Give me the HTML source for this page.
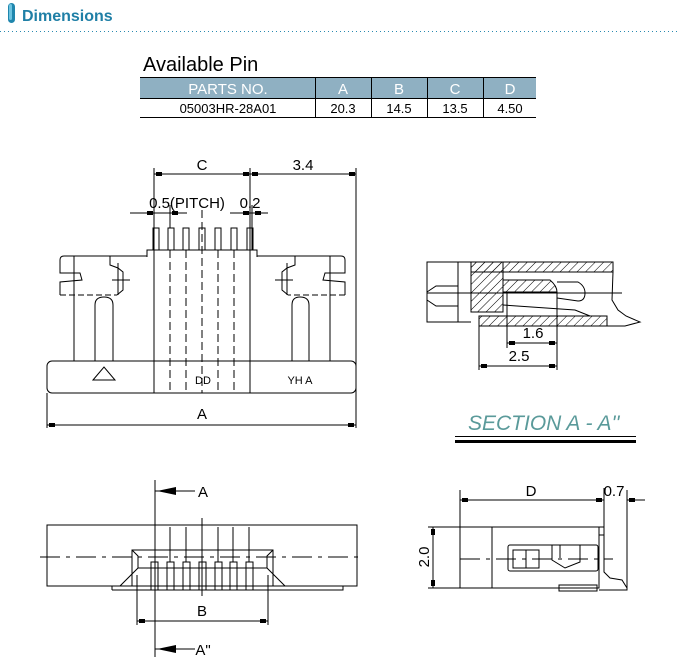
<!DOCTYPE html>
<html><head><meta charset="utf-8"><style>
html,body{margin:0;padding:0;background:#fff;}
svg{display:block;}
text{font-family:"Liberation Sans",sans-serif;}
</style></head><body>
<svg width="680" height="665" viewBox="0 0 680 665" xmlns="http://www.w3.org/2000/svg">
<defs>
<pattern id="h" width="6" height="6" patternUnits="userSpaceOnUse" patternTransform="rotate(45)">
<line x1="0" y1="0" x2="0" y2="6" stroke="#000" stroke-width="1"/>
</pattern>
</defs>
<rect x="8" y="3" width="7" height="20" rx="3.5" fill="#1f86ad"/>
<rect x="9" y="4" width="3" height="16" rx="1.5" fill="#6cc3e0"/>
<text x="22" y="21" font-size="16" font-weight="bold" fill="#1f7fa6">Dimensions</text>
<line x1="0" y1="31.5" x2="680" y2="31.5" stroke="#2a8ab0" stroke-width="1" stroke-dasharray="1,3"/>

<text x="143" y="71" font-size="20" fill="#000">Available Pin</text>
<rect x="140" y="78" width="396" height="20" fill="#8fb0c2"/>
<line x1="140" y1="77.5" x2="536" y2="77.5" stroke="#000"/>
<line x1="140" y1="98.5" x2="536" y2="98.5" stroke="#000"/>
<line x1="140" y1="117.5" x2="536" y2="117.5" stroke="#000"/>
<g stroke="#000"><line x1="315.5" y1="78" x2="315.5" y2="118"/><line x1="371.5" y1="78" x2="371.5" y2="118"/><line x1="427.5" y1="78" x2="427.5" y2="118"/><line x1="483.5" y1="78" x2="483.5" y2="118"/></g>
<g font-size="15" fill="#fff" text-anchor="middle"><text x="228" y="94">PARTS NO.</text><text x="343" y="94">A</text><text x="399" y="94">B</text><text x="455" y="94">C</text><text x="510" y="94">D</text></g>
<g font-size="13" fill="#000" text-anchor="middle"><text x="228" y="113">05003HR-28A01</text><text x="343" y="113">20.3</text><text x="399" y="113">14.5</text><text x="455" y="113">13.5</text><text x="510" y="113">4.50</text></g>

<g stroke="#000" stroke-width="1" fill="none">
<!-- top view -->
<line x1="154" y1="168" x2="154" y2="393"/><line x1="250" y1="168" x2="250" y2="393"/><line x1="356" y1="168" x2="356" y2="428"/>
<line x1="154" y1="174" x2="356" y2="174"/>
<line x1="47" y1="393" x2="47" y2="428"/>
<line x1="47" y1="425" x2="356" y2="425"/>
<line x1="130" y1="213" x2="187" y2="213"/><line x1="170" y1="205" x2="170" y2="228"/>
<line x1="230" y1="213" x2="268" y2="213"/><line x1="252" y1="205" x2="252" y2="250"/>
<path d="M147 257 L147 250 L257 250 L257 257"/>
<path d="M147 256 L64 256 Q60 256 60 260 L60 273 L80 273 L82 280 L60 282 L60 295"/>
<path d="M60 295 L117 295" stroke-dasharray="6,3"/>
<path d="M147 256 L110 256 L110 265 L118 268 L123 272 L123 290 L117 295"/>
<line x1="118" y1="263" x2="118" y2="295"/><line x1="112" y1="280" x2="130" y2="280"/>
<line x1="74" y1="256" x2="74" y2="361"/>
<path d="M95 361 L95 305 Q95 297 104 297 Q113 297 113 305 L113 361"/>
<path d="M257 256 L341 256 Q345 256 345 260 L345 273 L325 273 L323 280 L345 282 L345 295"/>
<path d="M345 295 L288 295" stroke-dasharray="6,3"/>
<path d="M257 256 L295 256 L295 265 L287 268 L282 272 L282 290 L288 295"/>
<line x1="287" y1="263" x2="287" y2="295"/><line x1="275" y1="280" x2="293" y2="280"/>
<line x1="330" y1="256" x2="330" y2="361"/>
<path d="M292 361 L292 305 Q292 297 300 297 Q309 297 309 305 L309 361"/>
<rect x="47" y="361" width="309" height="32" rx="5"/>
<path d="M93 380 L104 367 L115 380 Z"/>
<g stroke-dasharray="8,4"><line x1="170" y1="250" x2="170" y2="393"/><line x1="186" y1="250" x2="186" y2="393"/><line x1="202" y1="210" x2="202" y2="393"/><line x1="218" y1="250" x2="218" y2="393"/><line x1="234" y1="250" x2="234" y2="393"/></g>
<rect x="153" y="228" width="6" height="22"/><rect x="168" y="228" width="6" height="22"/><rect x="183" y="228" width="6" height="22"/><rect x="199" y="228" width="6" height="22"/><rect x="215" y="228" width="6" height="22"/><rect x="231" y="228" width="6" height="22"/><rect x="247" y="228" width="6" height="22"/>

<!-- section -->
<rect x="427" y="262" width="31" height="60"/>
<path d="M427 292 L436 286 L458 286 M427 300 L436 306 L458 306"/>
<path d="M458 262 L471 262 M458 322 L471 322"/>
<rect x="471" y="262" width="142" height="10" fill="url(#h)"/>
<rect x="471" y="262" width="32" height="50" fill="url(#h)"/>
<path d="M503 280 L550 280 Q557 286 557 292 L503 292 Z" fill="url(#h)"/>
<rect x="479" y="316" width="128" height="10" fill="url(#h)"/>
<path d="M557 282 L578 282 Q585 286 585 293 Q585 301 578 301 L557 298"/>
<path d="M503 305 L575 310 L590 316"/>
<path d="M613 272 L612 300 L618 310 L626 316 L640 322 L625 326 L607 326"/>
<line x1="427" y1="293" x2="622" y2="293"/>
<line x1="507" y1="292" x2="507" y2="348"/><line x1="557" y1="292" x2="557" y2="370"/><line x1="479" y1="326" x2="479" y2="370"/>
<line x1="507" y1="343" x2="557" y2="343"/><line x1="479" y1="366" x2="557" y2="366"/>

<!-- bottom left -->
<rect x="47" y="525" width="310" height="61"/>
<path d="M132 586 L132 550 L273 550 L273 586"/>
<path d="M112 590 L343 590 L343 586 M112 586 L112 590"/>
<path d="M120 586 L138 568 L138 556 L132 550 M285 586 L267 568 L267 556 L273 550"/>
<line x1="138" y1="568" x2="267" y2="568"/>
<line x1="40" y1="557" x2="362" y2="557" stroke-dasharray="20,6,4,6"/>
<line x1="155" y1="480" x2="155" y2="657"/>
<g><line x1="170" y1="527" x2="170" y2="562"/><line x1="186" y1="527" x2="186" y2="562"/><line x1="202" y1="518" x2="202" y2="596"/><line x1="218" y1="527" x2="218" y2="562"/><line x1="233" y1="527" x2="233" y2="562"/><line x1="249" y1="527" x2="249" y2="562"/></g>
<rect x="151" y="562" width="7" height="28"/><rect x="167" y="562" width="7" height="28"/><rect x="183" y="562" width="7" height="28"/><rect x="199" y="562" width="7" height="28"/><rect x="215" y="562" width="7" height="28"/><rect x="230" y="562" width="7" height="28"/><rect x="246" y="562" width="7" height="28"/>
<line x1="137" y1="575" x2="137" y2="625"/><line x1="268" y1="575" x2="268" y2="625"/>
<line x1="137" y1="621" x2="268" y2="621"/>
<line x1="155" y1="491" x2="195" y2="491"/><line x1="155" y1="649" x2="195" y2="649"/>

<!-- bottom right -->
<rect x="460" y="527" width="139" height="61"/>
<line x1="492" y1="527" x2="492" y2="588"/>
<path d="M599 527 L604 527 L604 535 L599 535 M604 535 L604 572 L610 578 L622 580 L627 588 L627 590 L599 590"/>
<rect x="559" y="585" width="38" height="6"/>
<rect x="508" y="545" width="90" height="26" rx="2"/>
<rect x="513" y="550" width="26" height="18"/><line x1="526" y1="550" x2="526" y2="568"/>
<path d="M552 545 L552 560 L565 568 L580 562 L580 545 M560 545 L560 558"/>
<line x1="460" y1="559" x2="613" y2="559" stroke-dasharray="20,6,4,6"/>
<line x1="460" y1="490" x2="460" y2="527"/><line x1="604" y1="488" x2="604" y2="527"/><line x1="627" y1="490" x2="627" y2="588"/>
<line x1="460" y1="500" x2="604" y2="500"/><line x1="627" y1="500" x2="645" y2="500"/>
<line x1="428" y1="527" x2="460" y2="527"/><line x1="428" y1="588" x2="460" y2="588"/>
<line x1="433" y1="527" x2="433" y2="588"/>
</g>
<g fill="#000">
<rect x="156" y="172" width="6" height="4"/><rect x="243" y="172" width="6" height="4"/><rect x="252" y="172" width="6" height="4"/><rect x="349" y="172" width="6" height="4"/>
<rect x="49" y="423" width="6" height="4"/><rect x="348" y="423" width="6" height="4"/>
<rect x="147" y="211" width="6" height="4"/><rect x="172" y="211" width="6" height="4"/>
<rect x="243" y="211" width="6" height="4"/><rect x="255" y="211" width="6" height="4"/>
<rect x="509" y="341" width="6" height="4"/><rect x="549" y="341" width="6" height="4"/>
<rect x="481" y="364" width="6" height="4"/><rect x="549" y="364" width="6" height="4"/>
<rect x="139" y="619" width="6" height="4"/><rect x="260" y="619" width="6" height="4"/>
<path d="M157 491 L176 487 L176 495 Z"/><path d="M157 649 L176 645 L176 653 Z"/>
<rect x="462" y="498" width="6" height="4"/><rect x="596" y="498" width="6" height="4"/><rect x="629" y="498" width="6" height="4"/>
<rect x="431" y="529" width="4" height="6"/><rect x="431" y="580" width="4" height="6"/>
<rect x="455" y="440" width="181" height="3"/>
</g>
<line x1="455" y1="436.5" x2="636" y2="436.5" stroke="#000"/>
<g font-size="15" fill="#000" text-anchor="middle">
<text x="202" y="170">C</text><text x="303" y="170">3.4</text>
<text x="187" y="208">0.5(PITCH)</text><text x="250" y="208">0.2</text>
<text x="202" y="419">A</text>
<text x="533" y="338">1.6</text><text x="519" y="361">2.5</text>
<text x="203" y="497">A</text><text x="203" y="655">A"</text>
<text x="202" y="616">B</text>
<text x="531" y="496">D</text><text x="614" y="496">0.7</text>
<text transform="translate(429,557) rotate(-90)">2.0</text>
</g>
<text x="203" y="384" font-size="11" text-anchor="middle">DD</text>
<text x="300" y="384" font-size="11" text-anchor="middle">YH A</text>
<text x="468" y="430" font-size="21" font-style="italic" fill="#5a9a9a">SECTION A - A''</text>
</svg>
</body></html>
